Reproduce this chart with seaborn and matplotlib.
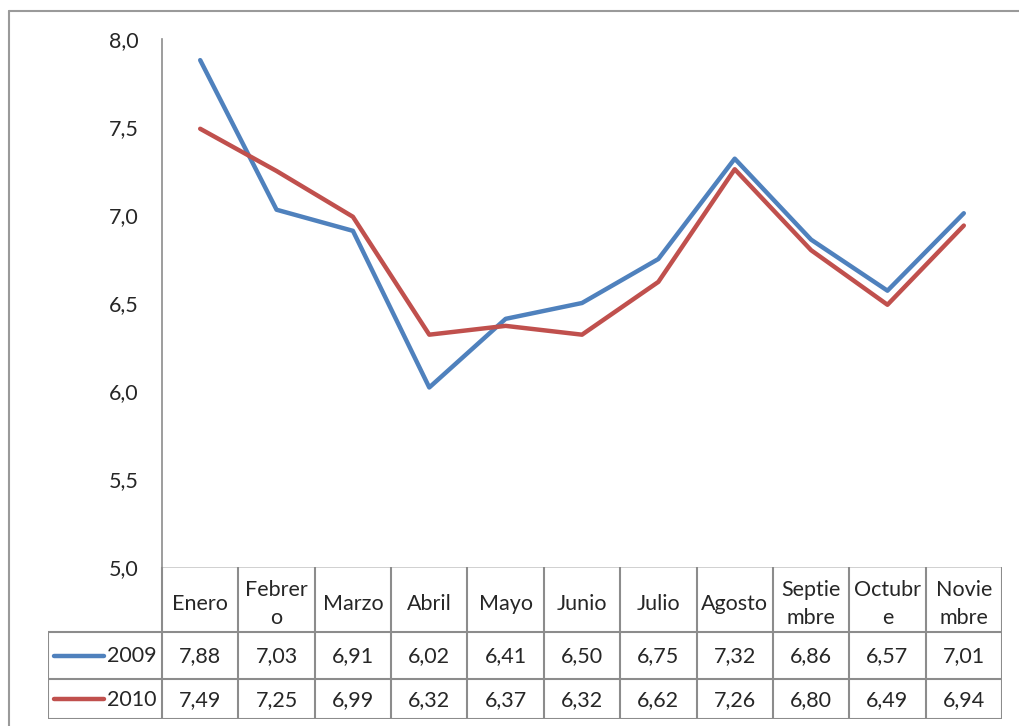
import matplotlib
matplotlib.use("Agg")
import matplotlib.pyplot as plt
import pandas as pd
import seaborn as sns

months = ["Enero", "Febrer\no", "Marzo", "Abril", "Mayo", "Junio", "Julio",
          "Agosto", "Septie\nmbre", "Octubr\ne", "Novie\nmbre"]
values_2009 = [7.88, 7.03, 6.91, 6.02, 6.41, 6.50, 6.75, 7.32, 6.86, 6.57, 7.01]
values_2010 = [7.49, 7.25, 6.99, 6.32, 6.37, 6.32, 6.62, 7.26, 6.80, 6.49, 6.94]
series_names = ["2009", "2010"]
y_ticks = [5.0, 5.5, 6.0, 6.5, 7.0, 7.5, 8.0]

colors = {"2009": "#4F81BD", "2010": "#C0504D"}
GRID = "#8c8c8c"
W, H = 1020, 726

sns.set_style("white")
plt.rcParams["font.family"] = ["Lato", "DejaVu Sans"]
FS = 15.5

df = pd.DataFrame({
    "pos": list(range(len(months))) * 2,
    "valor": values_2009 + values_2010,
    "serie": ["2009"] * len(months) + ["2010"] * len(months),
})

fig = plt.figure(figsize=(W / 100, H / 100), dpi=100)

# outer chart frame (top and left edges)
fig.add_artist(plt.Line2D([9 / W, 1], [1 - 11 / H, 1 - 11 / H], color="#9a9a9a", lw=1.5))
fig.add_artist(plt.Line2D([9 / W, 9 / W], [0, 1 - 11 / H], color="#9a9a9a", lw=1.5))

# plot area
x0, x1, ytop, ybot = 162, 1002, 39, 567
ax = fig.add_axes([x0 / W, 1 - ybot / H, (x1 - x0) / W, (ybot - ytop) / H])
sns.lineplot(data=df, x="pos", y="valor", hue="serie", palette=colors,
             linewidth=3.2, legend=False, ax=ax, solid_capstyle="round")
ax.set_xlim(-0.5, len(months) - 0.5)
ax.set_ylim(y_ticks[0], y_ticks[-1])
ax.set_yticks(y_ticks)
ax.set_yticklabels([f"{v:.1f}".replace(".", ",") for v in y_ticks], fontsize=FS)
ax.tick_params(axis="y", length=0, pad=17)
ax.set_xticks([])
ax.set_xlabel("")
ax.set_ylabel("")
for side in ["top", "right", "bottom"]:
    ax.spines[side].set_visible(False)
ax.spines["left"].set_color(GRID)
ax.spines["left"].set_linewidth(1.2)
ax.patch.set_alpha(0)

# data table below the plot
col_w = (x1 - x0) / len(months)
lab_px = x0 - 48
lab_w = lab_px / col_w
t_top, t_h1, t_r1, t_bot = 567, 632, 679, 719
tab = fig.add_axes([48 / W, 1 - t_bot / H, (x1 - 48) / W, (t_bot - t_top) / H])
tab.set_xlim(-0.5 - lab_w, len(months) - 0.5)
tab.set_ylim(t_bot - t_top, 0)
tab.axis("off")

h1, r1, r2 = t_h1 - t_top, t_r1 - t_top, t_bot - t_top
lk = dict(color=GRID, lw=1.5, solid_capstyle="butt")
left_edge = -0.5 - lab_w
right_edge = len(months) - 0.5
tab.plot([-0.5, right_edge], [0, 0], color="#c8c8c8", lw=1.2)
for yy in [h1, r1, r2]:
    tab.plot([left_edge, right_edge], [yy, yy], **lk)
for i in range(len(months) + 1):
    tab.plot([i - 0.5, i - 0.5], [0, r2], **lk)
tab.plot([left_edge, left_edge], [h1, r2], **lk)

for i, m in enumerate(months):
    tab.text(i, h1 / 2 + 4, m, ha="center", va="center", fontsize=FS,
             linespacing=1.5)

rows = [(series_names[0], values_2009, h1, r1), (series_names[1], values_2010, r1, r2)]
for name, vals, ya, yb in rows:
    yc = (ya + yb) / 2 + 1
    for i, v in enumerate(vals):
        tab.text(i, yc, f"{v:.2f}".replace(".", ","), ha="center", va="center",
                 fontsize=FS)
    tab.plot([left_edge + 6 / col_w, left_edge + 56 / col_w], [yc - 1, yc - 1],
             color=colors[name], lw=3.2, solid_capstyle="round")
    tab.text(-0.5 - 5 / col_w, yc, name, ha="right", va="center", fontsize=FS)

fig.savefig("out.png", dpi=100, facecolor="white")
